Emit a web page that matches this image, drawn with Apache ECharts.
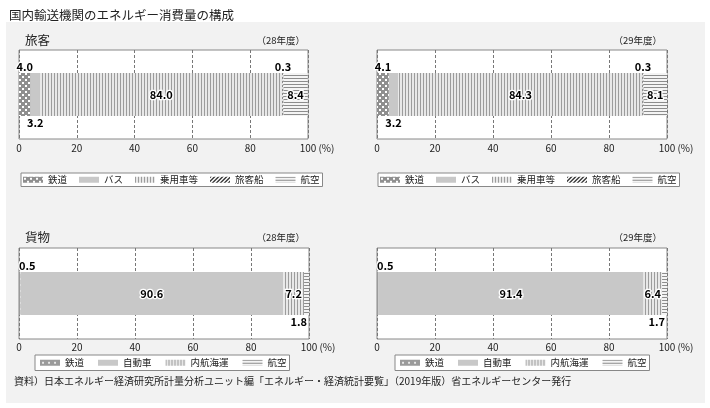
<!DOCTYPE html>
<html>
<head>
<meta charset="utf-8">
<script src="https://cdn.jsdelivr.net/npm/echarts@6/dist/echarts.min.js"></script>
<style>
  html, body { margin: 0; padding: 0; background: #fff; }
  #chart { width: 710px; height: 408px; }
</style>
</head>
<body>
<div id="chart"></div>
<script>
    // データ
    var passengerCats = ['鉄道', 'バス', '乗用車等', '旅客船', '航空'];
    var passenger28 = [4.0, 3.2, 84.0, 0.3, 8.4];
    var passenger29 = [4.1, 3.2, 84.3, 0.3, 8.1];
    var freightCats = ['鉄道', '自動車', '内航海運', '航空'];
    var freight28 = [0.5, 90.6, 7.2, 1.8];
    var freight29 = [0.5, 91.4, 6.4, 1.7];
    var xTicks = [0, 20, 40, 60, 80, 100];

    var FONT = '"Noto Sans CJK JP", "Noto Sans", sans-serif';

    // 模様（canvas パターン）
    function pattern(w, h, paint) {
        var c = document.createElement('canvas');
        c.width = w; c.height = h;
        paint(c.getContext('2d'));
        return { image: c, repeat: 'repeat' };
    }
    var dots = pattern(6, 6, function (g) {
        g.fillStyle = '#8f8f8f'; g.fillRect(0, 0, 6, 6);
        g.fillStyle = '#fff'; g.fillRect(1, 1, 2, 2); g.fillRect(4, 4, 2, 2);
    });
    var dotsRow = pattern(6, 6, function (g) {
        g.fillStyle = '#9a9a9a'; g.fillRect(0, 0, 6, 6);
        g.fillStyle = '#e8e8e8'; g.fillRect(2, 2, 2, 2);
    });
    var solid = '#c8c8c8';
    var vlines = pattern(3, 1, function (g) {
        g.fillStyle = '#e8e8e8'; g.fillRect(0, 0, 3, 1);
        g.fillStyle = '#9c9c9c'; g.fillRect(0, 0, 1, 1);
    });
    var hlines = pattern(1, 3, function (g) {
        g.fillStyle = '#f4f4f4'; g.fillRect(0, 0, 1, 3);
        g.fillStyle = '#8c8c8c'; g.fillRect(0, 0, 1, 1);
    });
    var hatch = pattern(4, 4, function (g) {
        g.fillStyle = '#fff'; g.fillRect(0, 0, 4, 4);
        g.fillStyle = '#3c3c3c';
        for (var i = 0; i < 4; i++) { g.fillRect(i, 3 - i, 1, 1); g.fillRect((i + 1) % 4, 3 - i, 1, 1); }
    });

    var passengerPat = { '鉄道': dots, 'バス': solid, '乗用車等': vlines, '旅客船': hatch, '航空': hlines };
    var freightPat = { '鉄道': dotsRow, '自動車': solid, '内航海運': vlines, '航空': hlines };

    var labelBase = {
        show: true, color: '#000', fontFamily: FONT, fontSize: 11, fontWeight: 'bold',
        textBorderColor: '#fff', textBorderWidth: 2.5,
        formatter: function (p) { return p.value.toFixed(1); }
    };
    var passengerLabel = [
        { position: 'top', distance: 1 },
        { position: 'bottom', distance: 1 },
        { position: 'inside' },
        { position: 'top', distance: 1 },
        { position: 'inside' }
    ];
    var freightLabel = [
        { position: [0, -1], align: 'left', verticalAlign: 'bottom' },
        { position: 'inside' },
        { position: 'inside' },
        { position: ['100%', '100%'], align: 'right', verticalAlign: 'top', offset: [-2, 1] }
    ];

    function panelSeries(cats, vals, idx, pats, labels) {
        return cats.map(function (name, i) {
            return {
                type: 'bar', name: name, xAxisIndex: idx, yAxisIndex: idx,
                stack: 'p' + idx, barWidth: 43, silent: true,
                data: [vals[i]],
                itemStyle: { color: pats[name] },
                label: Object.assign({}, labelBase, labels[i])
            };
        });
    }

    var grids = [
        { left: 19, top: 50, width: 289, height: 89 },
        { left: 377, top: 50, width: 290, height: 89 },
        { left: 19, top: 248, width: 290, height: 91 },
        { left: 377, top: 248, width: 290, height: 91 }
    ];

    var myChart = echarts.init(document.getElementById('chart'));

    option = {
        backgroundColor: '#fff',
        animation: false,
        textStyle: { fontFamily: FONT },
        graphic: [{
            type: 'rect', z: -10, left: 6, top: 22,
            shape: { width: 699, height: 381 },
            style: { fill: '#f2f2f2' }
        }],
        title: [
            { text: '国内輸送機関のエネルギー消費量の構成', left: 4, top: 4,
              textStyle: { fontSize: 12.5, fontWeight: 'normal', color: '#222', fontFamily: FONT } },
            { text: '旅客', left: 20, top: 29, textStyle: { fontSize: 12.5, fontWeight: 'normal', color: '#222', fontFamily: FONT } },
            { text: '（28年度）', right: 400, top: 31, textStyle: { fontSize: 9.5, fontWeight: 'normal', color: '#222', fontFamily: FONT } },
            { text: '（29年度）', right: 43, top: 31, textStyle: { fontSize: 9.5, fontWeight: 'normal', color: '#222', fontFamily: FONT } },
            { text: '貨物', left: 20, top: 226, textStyle: { fontSize: 12.5, fontWeight: 'normal', color: '#222', fontFamily: FONT } },
            { text: '（28年度）', right: 400, top: 228, textStyle: { fontSize: 9.5, fontWeight: 'normal', color: '#222', fontFamily: FONT } },
            { text: '（29年度）', right: 43, top: 228, textStyle: { fontSize: 9.5, fontWeight: 'normal', color: '#222', fontFamily: FONT } },
            { text: '資料）日本エネルギー経済研究所計量分析ユニット編「エネルギー・経済統計要覧」（2019年版）省エネルギーセンター発行',
              left: 14, top: 376, padding: 0,
              textStyle: { fontSize: 10, fontWeight: 'normal', color: '#222', fontFamily: FONT } }
        ],
        legend: [
            { data: passengerCats.map(function (n) { return { name: n, itemStyle: { color: passengerPat[n] } }; }),
              left: 21, top: 173 },
            { data: passengerCats.map(function (n) { return { name: n, itemStyle: { color: passengerPat[n] } }; }),
              left: 378, top: 173 },
            { data: freightCats.map(function (n) { return { name: n, itemStyle: { color: freightPat[n] } }; }),
              left: 35, top: 355, padding: [3, 3, 3, 5], itemGap: 14 },
            { data: freightCats.map(function (n) { return { name: n, itemStyle: { color: freightPat[n] } }; }),
              left: 395, top: 355, padding: [3, 3, 3, 5], itemGap: 14 }
        ].map(function (l) {
            return Object.assign({
                orient: 'horizontal', icon: 'rect', itemWidth: 20, itemHeight: 6, itemGap: 12,
                padding: [2, 3, 2, 2], borderColor: '#888', borderWidth: 1, backgroundColor: '#fff',
                selectedMode: false,
                textStyle: { fontSize: 9.5, color: '#222', fontFamily: FONT }
            }, l);
        }),
        grid: grids.map(function (g) {
            return Object.assign({ show: true, backgroundColor: '#fff', borderColor: '#888', borderWidth: 1 }, g);
        }),
        xAxis: grids.map(function (g, i) {
            return {
                type: 'value', gridIndex: i, min: xTicks[0], max: xTicks[xTicks.length - 1], interval: 20,
                axisLine: { show: false }, axisTick: { show: false },
                splitLine: { show: true, lineStyle: { type: [3, 2], color: '#777', width: 1 } },
                axisLabel: {
                    margin: i < 2 ? 4 : 3, fontSize: 10, color: '#222', fontFamily: FONT,
                    formatter: function (v) { return v === 100 ? '{pad|}{n|100}{u| (%)}' : String(v); },
                    rich: {
                        pad: { width: 18 },
                        n: { fontSize: 10, color: '#222', fontFamily: FONT },
                        u: { width: 18, fontSize: 10, color: '#222', fontFamily: FONT }
                    }
                }
            };
        }),
        yAxis: grids.map(function (g, i) {
            return { type: 'category', gridIndex: i, data: [''], show: false };
        }),
        series: [].concat(
            panelSeries(passengerCats, passenger28, 0, passengerPat, passengerLabel),
            panelSeries(passengerCats, passenger29, 1, passengerPat, passengerLabel),
            panelSeries(freightCats, freight28, 2, freightPat, freightLabel),
            panelSeries(freightCats, freight29, 3, freightPat, freightLabel)
        )
    };

    myChart.setOption(option);
</script>
</body>
</html>
